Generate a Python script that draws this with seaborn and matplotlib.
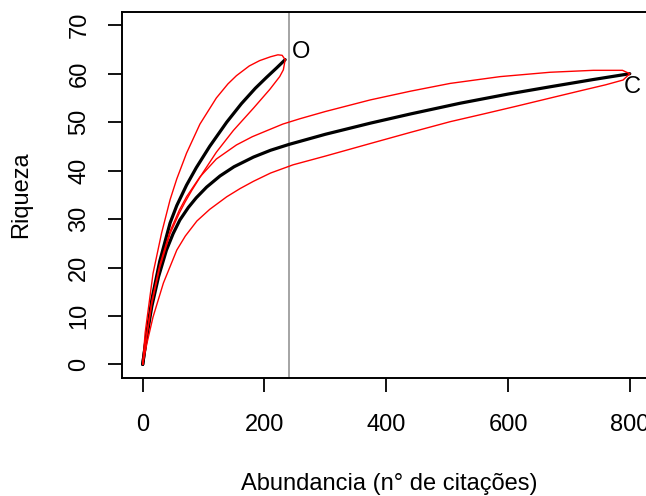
import matplotlib
matplotlib.use("Agg")
import matplotlib.pyplot as plt
import seaborn as sns

# ---- data ----
# Sample O: rarefied richness (black) and confidence limits (red)
o_x = [0, 5, 15, 28, 45, 56, 72, 88, 110, 138, 162, 185, 203, 220, 234]
o_y = [0, 4.8, 13.4, 21.3, 29.2, 32.8, 37.0, 40.6, 45.0, 50.0, 53.8, 57.0, 59.2, 61.2, 62.9]

o_up_x = [0, 4, 17, 31, 45, 56, 72, 94, 121, 140, 154, 175, 192, 210, 222, 229, 234]
o_up_y = [0, 6.5, 18.8, 27.1, 34.0, 38.3, 43.6, 49.6, 55.0, 57.9, 59.6, 61.6, 62.7, 63.5, 63.9, 63.8, 62.9]

o_lo_x = [0, 5, 15, 28, 45, 60, 70, 81, 99, 121, 149, 182, 209, 225, 231, 234]
o_lo_y = [0, 4.5, 12.5, 20.0, 27.0, 31.2, 33.6, 36.0, 39.6, 43.8, 48.3, 52.9, 56.8, 59.4, 60.8, 62.9]

# Sample C
c_x = [0, 5, 15, 26, 39, 50, 61, 75, 88, 105, 127, 150, 182, 210, 240, 300, 374,
       440, 521, 600, 669, 740, 800]
c_y = [0, 4.5, 12.0, 18.1, 23.6, 27.0, 29.8, 32.4, 34.4, 36.6, 38.9, 40.8, 42.8, 44.2,
       45.4, 47.5, 49.8, 51.7, 53.9, 55.8, 57.3, 58.8, 60.0]

c_up_x = [0, 5, 15, 28, 45, 60, 72, 94, 121, 154, 180, 203, 230, 258, 300, 374, 440,
          505, 587, 669, 740, 788, 800]
c_up_y = [0, 5.0, 13.0, 20.5, 27.5, 31.8, 34.6, 38.7, 42.4, 45.3, 47.0, 48.2, 49.6,
          50.7, 52.2, 54.6, 56.4, 58.0, 59.4, 60.3, 60.7, 60.7, 60.0]

c_lo_x = [0, 7, 17, 34, 56, 70, 89, 110, 138, 160, 182, 210, 247, 300, 374, 440, 505,
          560, 614, 670, 723, 760, 789, 800]
c_lo_y = [0, 4.4, 9.8, 16.8, 23.6, 26.5, 29.6, 32.0, 34.6, 36.3, 37.8, 39.5, 41.2,
          43.0, 45.6, 47.9, 50.1, 51.7, 53.3, 55.0, 56.6, 57.7, 58.7, 60.0]

x_ticks = [0, 200, 400, 600, 800]
y_ticks = [0, 10, 20, 30, 40, 50, 60, 70]
ref_line_x = 240
labels = ["O", "C"]
label_x = [260, 804]
label_y = [64.5, 57.3]

x_label = "Abundancia (n° de citações)"
y_label = "Riqueza"

# ---- drawing ----
sns.set_style("white")
plt.rcParams["font.family"] = ["Liberation Sans", "DejaVu Sans"]
plt.rcParams["text.color"] = "black"
plt.rcParams["axes.labelcolor"] = "black"
plt.rcParams["xtick.color"] = "black"
plt.rcParams["ytick.color"] = "black"

fig = plt.figure(figsize=(6.46, 4.96), dpi=100)
ax = fig.add_axes([122.3 / 646, (496 - 378) / 496, (673 - 122.3) / 646, (378 - 11.7) / 496])

for xs, ys in [(o_x, o_y), (c_x, c_y)]:
    sns.lineplot(x=xs, y=ys, ax=ax, color="black", linewidth=2.3,
                 sort=False, estimator=None)
for xs, ys in [(o_up_x, o_up_y), (o_lo_x, o_lo_y), (c_up_x, c_up_y), (c_lo_x, c_lo_y)]:
    sns.lineplot(x=xs, y=ys, ax=ax, color="red", linewidth=1.0,
                 sort=False, estimator=None)

ax.axvline(ref_line_x, color="#8c8c8c", linewidth=1.1, zorder=1)

for lab, lx, ly in zip(labels, label_x, label_y):
    ax.text(lx, ly, lab, fontsize=17, ha="center", va="center", color="black")

ax.set_xlim(-33.5, 871)
ax.set_ylim(-2.8, 72.8)
ax.set_xticks(x_ticks)
ax.set_yticks(y_ticks)
ax.set_xticklabels([str(t) for t in x_ticks], fontsize=17)
ax.set_yticklabels([str(t) for t in y_ticks], fontsize=17, rotation=90, va="center")

ax.tick_params(axis="both", direction="out", length=10, width=1.3, color="black",
               labelcolor="black", left=True, bottom=True, top=False, right=False)
ax.tick_params(axis="y", pad=13)
ax.tick_params(axis="x", pad=16)

for sp in ax.spines.values():
    sp.set_color("black")
    sp.set_linewidth(1.4)

ax.set_xlabel(x_label, fontsize=17, va="center", color="black")
ax.set_ylabel(y_label, fontsize=17, va="center", color="black")
ax.xaxis.set_label_coords((389 - 122.3) / 550.7, (378 - 484) / 366.3)
ax.yaxis.set_label_coords((21.5 - 122.3) / 550.7, 0.5)

fig.savefig("out.png", dpi=100)
